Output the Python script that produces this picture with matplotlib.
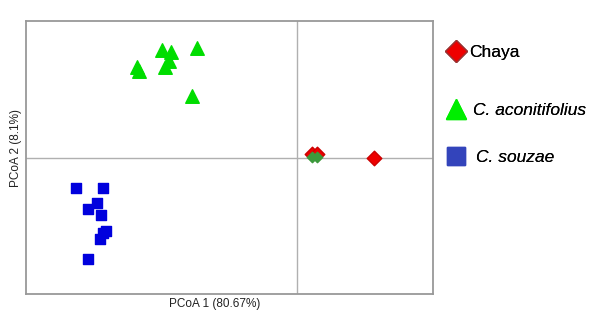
import numpy as np
import matplotlib.pyplot as plt
from matplotlib.lines import Line2D

plt.rcParams['font.family'] = ['Liberation Sans', 'DejaVu Sans']

# PCoA scores
souzae_x = [-0.326, -0.287, -0.295, -0.309, -0.289, -0.286, -0.282, -0.291, -0.309]
souzae_y = [-0.045, -0.044, -0.067, -0.076, -0.084, -0.110, -0.107, -0.120, -0.148]

aconit_x = [-0.199, -0.186, -0.148, -0.237, -0.234, -0.189, -0.195, -0.156]
aconit_y = [0.157, 0.155, 0.161, 0.132, 0.127, 0.141, 0.133, 0.090]

chaya_x = [0.022, 0.029, 0.113]
chaya_y = [0.005, 0.005, -0.001]

chaya_g_x = [0.022, 0.029]
chaya_g_y = [0.0005, 0.0005]

labels = ['Chaya', 'C. aconitifolius', 'C. souzae']

fig = plt.figure(figsize=(6.01, 3.2), dpi=100)
ax = fig.add_axes([26/601, 1 - 294/320, 407/601, 273/320])
ax.set_xlim(-0.40, 0.20)
ax.set_ylim(-0.20, 0.20)

ax.axhline(0, color='#b0b0b0', lw=1, zorder=1)
ax.axvline(0, color='#b0b0b0', lw=1, zorder=1)

ax.scatter(souzae_x, souzae_y, marker='s', s=55, color='#0000dd', edgecolors='#0000dd', zorder=3)
ax.scatter(aconit_x, aconit_y, marker='^', s=95, color='#00dd00', edgecolors='#00dd00', zorder=3)
ax.scatter(chaya_x, chaya_y, marker='D', s=55, color='#ee0000', edgecolors='#cc0000', zorder=3)
ax.scatter(chaya_g_x, chaya_g_y, marker='D', s=28, color='#3c9a3c', edgecolors='#3c9a3c', zorder=4)

for side in ax.spines.values():
    side.set_color('#999999')
    side.set_linewidth(1.3)
ax.set_xticks([])
ax.set_yticks([])

ax.set_xlabel('PCoA 1 (80.67%)', fontsize=8.5, labelpad=3, x=0.464, color='#222222')
ax.set_ylabel('PCoA 2 (8.1%)', fontsize=8.5, labelpad=3, y=0.535, color='#222222')

# legend keys, one legend per entry so the rows can sit where the original has them
handles = [
    Line2D([], [], ls='none', marker='D', ms=11.5, mfc='#ee0000', mec='#993333', mew=1),
    Line2D([], [], ls='none', marker='^', ms=15, mfc='#00ee00', mec='#00ee00'),
    Line2D([], [], ls='none', marker='s', ms=12.5, mfc='#3344bb', mec='#3344bb'),
]
rows_y = [52, 110, 157]
pads = [0.15, 0.38, 0.53]
for i in range(3):
    leg = fig.legend([handles[i]], [labels[i]], loc='center left',
                     bbox_to_anchor=(445.6/601, 1 - rows_y[i]/320),
                     frameon=False, fontsize=12.5, handletextpad=pads[i],
                     handlelength=1.2, borderaxespad=0, borderpad=0)
    if i > 0:
        leg.get_texts()[0].set_style('italic')
    fig.add_artist(leg)

fig.savefig('out.png', dpi=100)
